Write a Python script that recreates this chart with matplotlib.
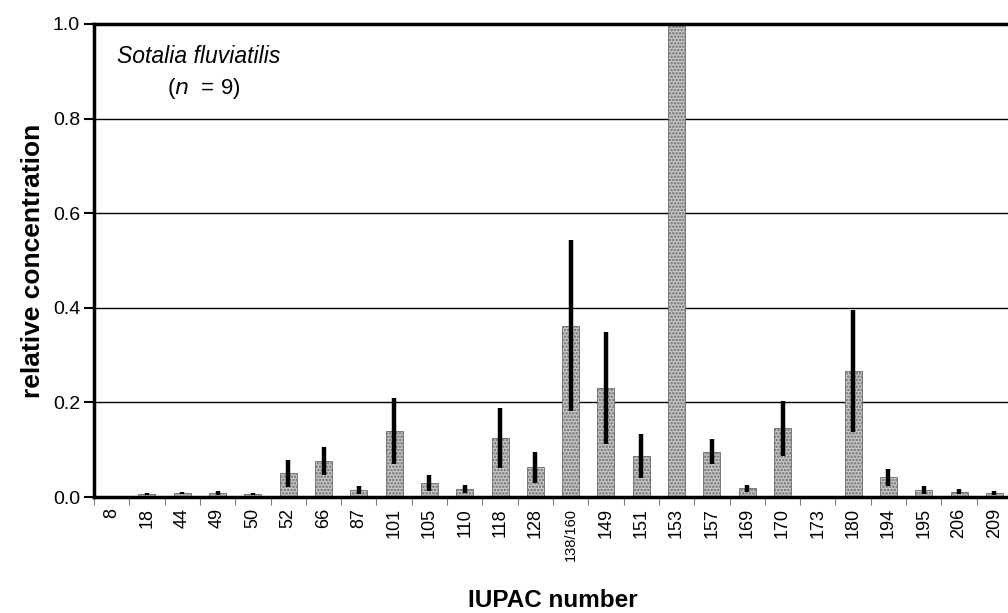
import numpy as np
import matplotlib
matplotlib.use('Agg')
import matplotlib.pyplot as plt

# PCB congeners (IUPAC numbers) and relative concentrations
congeners = ['8', '18', '44', '49', '50', '52', '66', '87', '101', '105', '110',
             '118', '128', '138/160', '149', '151', '153', '157', '169', '170',
             '173', '180', '194', '195', '206', '209']
rel_conc = [0.003, 0.006, 0.009, 0.009, 0.007, 0.050, 0.076, 0.015, 0.140, 0.030,
            0.017, 0.125, 0.063, 0.362, 0.230, 0.087, 1.000, 0.096, 0.018, 0.145,
            0.001, 0.266, 0.042, 0.015, 0.011, 0.008]
sd = [0.000, 0.002, 0.002, 0.004, 0.002, 0.028, 0.029, 0.008, 0.070, 0.017,
      0.009, 0.063, 0.033, 0.181, 0.119, 0.047, 0.000, 0.026, 0.008, 0.059,
      0.000, 0.129, 0.018, 0.008, 0.005, 0.004]
yticks = [0.0, 0.2, 0.4, 0.6, 0.8, 1.0]

plt.rcParams['font.family'] = ['Liberation Sans', 'DejaVu Sans']
plt.rcParams['hatch.linewidth'] = 1.2

fig = plt.figure(figsize=(10.08, 6.13), dpi=100)
ax = fig.add_axes([94 / 1008, 116 / 613, 918 / 1008, 473 / 613])

x = np.arange(len(congeners))
ax.bar(x, rel_conc, width=0.48, color='#c8c8c8', edgecolor='#6a6a6a',
       hatch='.....', linewidth=0.6, zorder=2)
ax.errorbar(x, rel_conc, yerr=sd, fmt='none', ecolor='black', elinewidth=3.2,
            capsize=0, zorder=3)

# grid lines
for v in yticks[1:-1]:
    ax.axhline(v, color='black', linewidth=1.0, zorder=1)

ax.set_xlim(-0.5, len(congeners) - 0.5)
ax.set_ylim(0, 1.0)
ax.set_yticks(yticks)
ax.set_yticklabels(['%.1f' % v for v in yticks], fontsize=14)
ax.tick_params(axis='y', direction='out', length=7, width=1.5, pad=3)

ax.set_xticks(x)
ax.set_xticklabels(congeners, rotation=90, fontsize=13)
for lbl in ax.get_xticklabels():
    if lbl.get_text() == '138/160':
        lbl.set_fontsize(10.5)
ax.tick_params(axis='x', which='major', length=0, pad=8)
ax.set_xticks(np.arange(len(congeners) + 1) - 0.5, minor=True)
ax.tick_params(axis='x', which='minor', direction='out', length=6, width=0.8,
               color='#808080')

for side in ['left', 'bottom', 'top']:
    ax.spines[side].set_linewidth(2.5)
ax.spines['right'].set_visible(False)

ax.set_ylabel('relative concentration', fontsize=19, fontweight='bold', labelpad=6)
ax.set_xlabel('IUPAC number', fontsize=17.5, fontweight='bold', labelpad=20)

ax.text(0.025, 0.955, 'Sotalia fluviatilis', transform=ax.transAxes,
        fontsize=16.5, style='italic', va='top', ha='left')
ax.text(0.08, 0.89, r'($\it{n}$  = 9)', transform=ax.transAxes,
        fontsize=16, va='top', ha='left')

fig.savefig('out.png', dpi=100)
